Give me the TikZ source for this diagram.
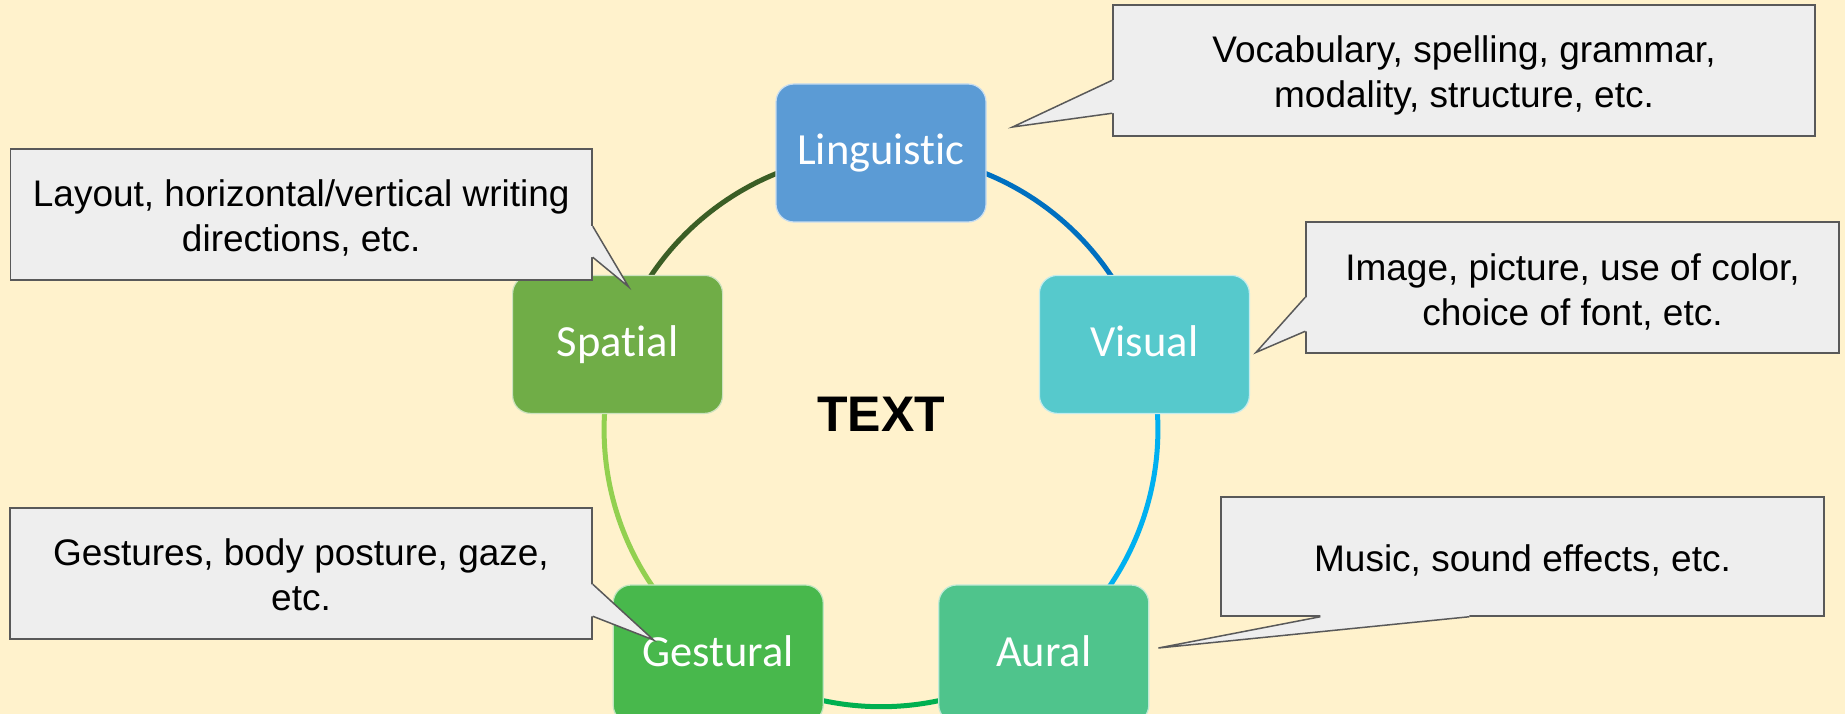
\documentclass[tikz,border=0pt]{standalone}
\usepackage{fontspec}
\setmainfont{Liberation Sans}
\newfontfamily\boxfont[Ligatures=NoCommon]{Carlito}
\usetikzlibrary{calc,backgrounds}
\definecolor{bg}{HTML}{FFF2CC}
\definecolor{linC}{HTML}{5B9BD5}
\definecolor{visC}{HTML}{56C9CC}
\definecolor{aurC}{HTML}{4FC48C}
\definecolor{gesC}{HTML}{48B84C}
\definecolor{spaC}{HTML}{70AD47}
\definecolor{arcLV}{HTML}{0070C0}
\definecolor{arcVA}{HTML}{00B0F0}
\definecolor{arcAG}{HTML}{00B050}
\definecolor{arcGS}{HTML}{92D050}
\definecolor{arcSL}{HTML}{3B5E25}
\definecolor{callfill}{HTML}{EEEEEE}
\definecolor{callline}{HTML}{595959}
\newcommand\calloutptr[4]{%
  \fill[callfill] ($(#1)+#4$) -- (#1) -- (#3) -- (#2) -- ($(#2)+#4$) -- cycle;
  \draw[ptrline] (#1) -- (#3) -- (#2);}
\begin{document}
\begin{tikzpicture}[x=1pt,y=-1pt,
  catbox/.style={rounded corners=18pt, minimum width=210pt, minimum height=138pt,
    draw=white!65!#1, fill=#1, line width=1.2pt, text=white, inner sep=0pt,
    font=\boxfont\fontsize{44.5}{50}\selectfont, text height=30pt, text depth=6pt},
  ringarc/.style={line width=5pt, bend left=36, looseness=0.9415},
  callbox/.style={draw=callline, fill=callfill, line width=1.5pt, inner sep=0pt},
  ptrline/.style={draw=callline, line width=1.5pt, line join=miter},
  calltext/.style={inner sep=0pt, align=center, text=black,
    font=\fontsize{37}{45}\selectfont}]
\useasboundingbox (0,0) rectangle (1845,714);

% category boxes
\node[catbox=linC] (lin) at (881,153) {Linguistic};
\node[catbox=visC] (vis) at (1144.4,344.4) {Visual};
\node[catbox=aurC] (aur) at (1043.8,654) {Aural};
\node[catbox=gesC] (ges) at (718.2,654) {Gestural};
\node[catbox=spaC] (spa) at (617.6,344.4) {Spatial};

\begin{scope}[on background layer]
\fill[bg] (0,0) rectangle (1845,714);
% ring, drawn centre to centre behind the boxes
\draw[ringarc, arcLV] (lin.center) to (vis.center);
\draw[ringarc, arcVA] (vis.center) to (aur.center);
\draw[ringarc, arcAG] (aur.center) to (ges.center);
\draw[ringarc, arcGS] (ges.center) to (spa.center);
\draw[ringarc, arcSL] (spa.center) to (lin.center);
\end{scope}

\node[font=\bfseries\fontsize{50}{55}\selectfont, inner sep=0pt, anchor=base] (txt) at (881,431) {TEXT};

% callout: linguistic
\node[callbox, minimum width=702pt, minimum height=131pt] (cL) at (1464,70.5) {};
\coordinate (cLa) at ($(cL.north west)+(0,76)$);
\coordinate (cLb) at ($(cL.north west)+(0,109)$);
\coordinate (cLt) at ($(lin.east)+(26,-26)$);
\calloutptr{cLa}{cLb}{cLt}{(3,0)}
\node[calltext] (cLtext) at (1464,75) {Vocabulary, spelling, grammar,\\modality, structure, etc.};

% callout: spatial
\node[callbox, minimum width=581.5pt, minimum height=131pt] (cS) at (301.25,214.5) {};
\coordinate (cSa) at ($(cS.north east)+(0,78)$);
\coordinate (cSb) at ($(cS.north east)+(0,109)$);
\coordinate (cSt) at ($(spa.north)+(11,12)$);
\calloutptr{cSa}{cSb}{cSt}{(-3,0)}
\node[calltext] (cStext) at (301.25,218) {Layout, horizontal/vertical writing\\directions, etc.};

% callout: visual
\node[callbox, minimum width=533pt, minimum height=131pt] (cV) at (1572.5,287.5) {};
\coordinate (cVa) at ($(cV.north west)+(0,76)$);
\coordinate (cVb) at ($(cV.north west)+(0,110)$);
\coordinate (cVt) at ($(vis.east)+(6,8)$);
\calloutptr{cVa}{cVb}{cVt}{(3,0)}
\node[calltext] (cVtext) at (1572.5,292) {Image, picture, use of color,\\choice of font, etc.};

% callout: gestural
\node[callbox, minimum width=582pt, minimum height=131pt] (cG) at (301,573.5) {};
\coordinate (cGa) at ($(cG.north east)+(0,77)$);
\coordinate (cGb) at ($(cG.north east)+(0,109)$);
\coordinate (cGt) at ($(ges.west)+(41,-14)$);
\calloutptr{cGa}{cGb}{cGt}{(-3,0)}
\node[calltext] (cGtext) at (301,575) {Gestures, body posture, gaze,\\etc.};

% callout: aural
\node[callbox, minimum width=603pt, minimum height=119pt] (cA) at (1522.5,556.5) {};
\coordinate (cAa) at ($(cA.south west)+(249,0)$);
\coordinate (cAb) at ($(cA.south west)+(100,0)$);
\coordinate (cAt) at ($(aur.east)+(9,-6)$);
\calloutptr{cAa}{cAb}{cAt}{(0,-3)}
\node[calltext, anchor=base] (cAtext) at (1522.5,571) {Music, sound effects, etc.};
\end{tikzpicture}
\end{document}
